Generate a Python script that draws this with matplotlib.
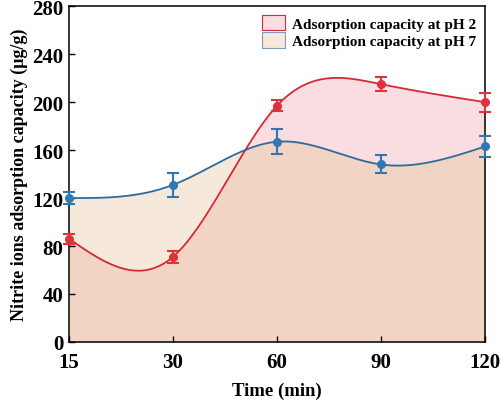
import numpy as np
import matplotlib
matplotlib.use("Agg")
import matplotlib.pyplot as plt
from matplotlib.patches import Patch

times = ["15", "30", "60", "90", "120"]
ph2 = [86, 71, 197, 215, 200]
ph2_err = [4, 5, 4.5, 6, 8]
ph7 = [120, 131, 167, 148, 163]
ph7_err = [5, 10, 10.5, 7.5, 9]
yticks = [0, 40, 80, 120, 160, 200, 240, 280]

plt.rcParams['font.family'] = ['Liberation Serif', 'DejaVu Serif']
plt.rcParams['font.weight'] = 'bold'


def natural_spline(x, y, xs):
    x = np.asarray(x, float); y = np.asarray(y, float)
    n = len(x)
    h = np.diff(x)
    A = np.zeros((n, n)); b = np.zeros(n)
    A[0, 0] = 1; A[-1, -1] = 1
    for i in range(1, n - 1):
        A[i, i - 1] = h[i - 1]
        A[i, i] = 2 * (h[i - 1] + h[i])
        A[i, i + 1] = h[i]
        b[i] = 3 * ((y[i + 1] - y[i]) / h[i] - (y[i] - y[i - 1]) / h[i - 1])
    c = np.linalg.solve(A, b)
    out = np.empty_like(xs)
    for k, xv in enumerate(xs):
        i = min(max(np.searchsorted(x, xv) - 1, 0), n - 2)
        dx = xv - x[i]
        bi = (y[i + 1] - y[i]) / h[i] - h[i] * (2 * c[i] + c[i + 1]) / 3
        di = (c[i + 1] - c[i]) / (3 * h[i])
        out[k] = y[i] + bi * dx + c[i] * dx ** 2 + di * dx ** 3
    return out


xpos = np.arange(len(times))
xs = np.linspace(0, len(times) - 1, 600)
r = natural_spline(xpos, ph2, xs)
b = natural_spline(xpos, ph7, xs)

fig = plt.figure(figsize=(5.0, 4.02), dpi=100)
ax = fig.add_axes([0.138, 0.147, 0.832, 0.835])

pink = '#F9DDE0'
beige = '#F6E8DA'
salmon = '#F2D4C4'
lo = np.minimum(r, b)
ax.fill_between(xs, 0, lo, color=salmon, lw=0)
ax.fill_between(xs, b, r, where=r >= b, interpolate=True, color=pink, lw=0)
ax.fill_between(xs, r, b, where=b >= r, interpolate=True, color=beige, lw=0)

ax.plot(xs, r, color='#D42A35', lw=1.3)
ax.plot(xs, b, color='#2E6A9A', lw=1.3)
ax.errorbar(xpos, ph2, yerr=ph2_err, fmt='o', color='#E0323A', ms=5.5,
            capsize=4, elinewidth=1.5, capthick=1.5, clip_on=False, zorder=5)
ax.errorbar(xpos, ph7, yerr=ph7_err, fmt='o', color='#2F78B4', ms=5.5,
            capsize=4, elinewidth=1.5, capthick=1.5, clip_on=False, zorder=5)

ax.set_xlim(0, len(times) - 1)
ax.set_ylim(0, 280)
ax.set_xticks(xpos)
ax.set_xticklabels(times)
ax.set_yticks(yticks)
ax.tick_params(direction='in', labelsize=15, length=4, width=1)
ax.tick_params(axis='y', pad=4)
ax.tick_params(axis='x', pad=7)
for lab in ax.get_xticklabels() + ax.get_yticklabels():
    lab.set_fontweight('bold')
ax.set_xlabel('Time (min)', fontsize=13.5, fontweight='bold', labelpad=7)
ax.set_ylabel('Nitrite ions adsorption capacity (μg/g)', fontsize=13,
              fontweight='bold', labelpad=3)
for s in ax.spines.values():
    s.set_linewidth(1.1)

handles = [Patch(facecolor=pink, edgecolor='#D42A35', lw=0.8),
           Patch(facecolor=beige, edgecolor='#7A9CC0', lw=0.8)]
ax.legend(handles, ['Adsorption capacity at pH 2', 'Adsorption capacity at pH 7'],
          loc='upper right', frameon=False,
          prop={'weight': 'bold', 'size': 11}, handlelength=1.5,
          handleheight=1.2, borderaxespad=0.15, labelspacing=0.1,
          handletextpad=0.5)

fig.savefig('out.png', dpi=100)
